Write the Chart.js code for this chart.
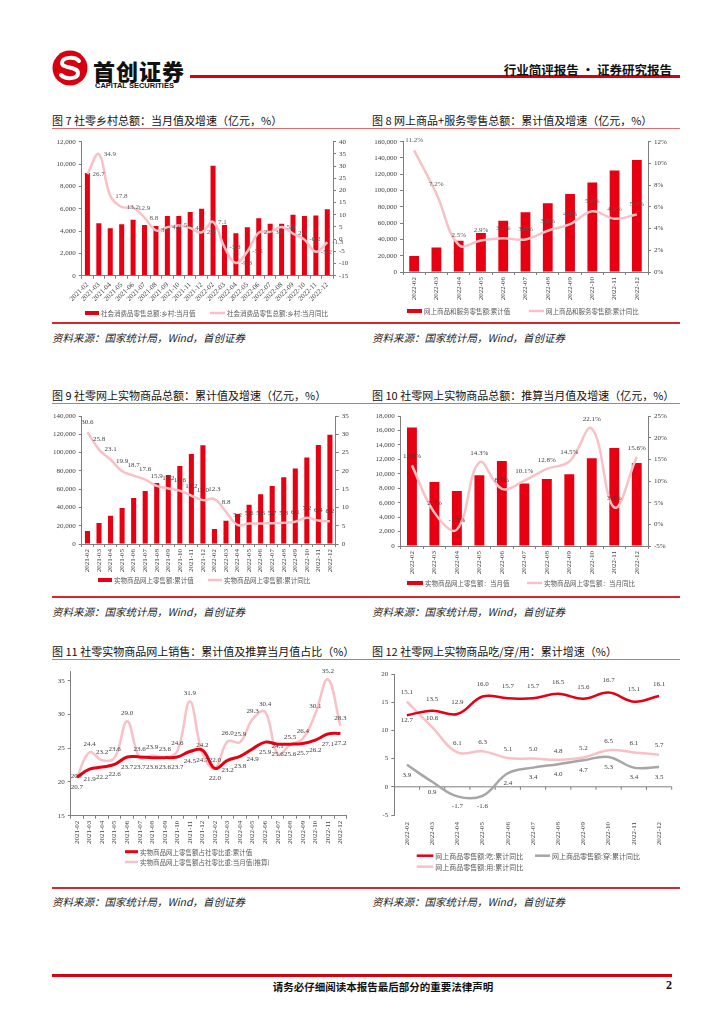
<!DOCTYPE html>
<html>
<head>
<meta charset="utf-8">
<script src="https://cdn.jsdelivr.net/npm/chart.js@4.4.1/dist/chart.umd.min.js"></script>
<style>
body { margin: 0; background: #fff; width: 724px; height: 1024px; position: relative; overflow: hidden; font-family: "Noto Sans CJK SC", sans-serif; }
.abs { position: absolute; white-space: nowrap; }
.title { font-size: 11px; line-height: 14px; color: #111; }
.src { font-size: 10.5px; line-height: 14px; font-style: italic; color: #222; }
.line { position: absolute; }
canvas { position: absolute; }
</style>
</head>
<body>

<svg style="position:absolute;left:51px;top:49px" width="38" height="38" viewBox="0 0 38 38">
  <circle cx="19" cy="19" r="17.5" fill="#d7000f"/>
  <path d="M28 12 C24 7 11 8 11 14 C11 20 27 17 27 24 C27 30 15 31 10 26" fill="none" stroke="#fff" stroke-width="4" stroke-linecap="round"/>
</svg>
<div class="abs" style="left:93px;top:54px;font-size:22px;font-weight:900;letter-spacing:1px;color:#111">首创证券</div>
<div class="abs" style="left:95px;top:81px;font-family:'Liberation Sans';font-size:7.5px;font-weight:bold;color:#111">CAPITAL SECURITIES</div>
<div class="line" style="left:190px;top:75px;width:490px;height:2.5px;background:#d7000f"></div>
<div class="abs" style="right:52px;top:60px;font-size:12.5px;font-weight:bold;color:#111">行业简评报告 · 证券研究报告</div>

<div class="abs title" style="left:52px;top:113px">图 7 社零乡村总额：当月值及增速（亿元，%）</div>
<div class="abs title" style="left:372px;top:113px">图 8 网上商品+服务零售总额：累计值及增速（亿元，%）</div>
<div class="line" style="left:52px;top:128px;width:628px;height:1px;background:#e36a6e"></div>
<div class="line" style="left:52px;top:322px;width:628px;height:2px;background:#d9262e"></div>
<div class="abs src" style="left:52px;top:331px">资料来源：国家统计局，Wind，首创证券</div>
<div class="abs src" style="left:372px;top:331px">资料来源：国家统计局，Wind，首创证券</div>

<div class="abs title" style="left:52px;top:388px">图 9 社零网上实物商品总额：累计值及增速（亿元，%）</div>
<div class="abs title" style="left:372px;top:388px">图 10 社零网上实物商品总额：推算当月值及增速（亿元，%）</div>
<div class="line" style="left:52px;top:403px;width:628px;height:1px;background:#e36a6e"></div>
<div class="line" style="left:52px;top:596px;width:628px;height:2px;background:#d9262e"></div>
<div class="abs src" style="left:52px;top:605px">资料来源：国家统计局，Wind，首创证券</div>
<div class="abs src" style="left:372px;top:605px">资料来源：国家统计局，Wind，首创证券</div>

<div class="abs title" style="left:52px;top:644px">图 11 社零实物商品网上销售：累计值及推算当月值占比（%）</div>
<div class="abs title" style="left:372px;top:644px">图 12 社零网上实物商品吃/穿/用：累计增速（%）</div>
<div class="line" style="left:52px;top:659px;width:628px;height:1px;background:#e36a6e"></div>
<div class="line" style="left:52px;top:887px;width:628px;height:2px;background:#d9262e"></div>
<div class="abs src" style="left:52px;top:895px">资料来源：国家统计局，Wind，首创证券</div>
<div class="abs src" style="left:372px;top:895px">资料来源：国家统计局，Wind，首创证券</div>

<div class="line" style="left:52px;top:974px;width:620px;height:3px;background:#d7000f"></div>
<div class="abs" style="left:383px;top:979px;transform:translateX(-50%);font-size:10.5px;font-weight:bold;color:#111">请务必仔细阅读本报告最后部分的重要法律声明</div>
<div class="abs" style="left:666px;top:978px;font-family:'Liberation Serif';font-size:12px;font-weight:bold;color:#111">2</div>

<canvas id="c7" width="325" height="190" style="left:40px;top:132px"></canvas>
<canvas id="c8" width="320" height="190" style="left:370px;top:132px"></canvas>
<canvas id="c9" width="325" height="188" style="left:40px;top:407px"></canvas>
<canvas id="c10" width="320" height="188" style="left:370px;top:407px"></canvas>
<canvas id="c11" width="325" height="210" style="left:40px;top:664px"></canvas>
<canvas id="c12" width="320" height="210" style="left:370px;top:664px"></canvas>

<script>
'use strict';

// months
const months2122 = ['2021-02', '2021-03', '2021-04', '2021-05', '2021-06', '2021-07', '2021-08', '2021-09', '2021-10', '2021-11', '2021-12',
  '2022-02', '2022-03', '2022-04', '2022-05', '2022-06', '2022-07', '2022-08', '2022-09', '2022-10', '2022-11', '2022-12'];
const months22 = ['2022-02', '2022-03', '2022-04', '2022-05', '2022-06', '2022-07', '2022-08', '2022-09', '2022-10', '2022-11', '2022-12'];

// fig 7 rural retail, monthly
const ruralValue = [9200, 4700, 4250, 4600, 5000, 4550, 4450, 5350, 5350, 5700, 6000, 9850, 4550, 3800, 4350, 5150, 4650, 4650, 5450, 5350, 5400, 5950];
const ruralYoy = [26.7, 34.9, 17.8, 13.2, 12.9, 8.8, 3.6, 4.9, 5.6, 4.6, 2.8, 7.1, -3.3, -9.8, -5.1, 2.7, 3.0, 5.0, 2.3, -0.2, -5.2, -1.3];

// fig 8 online goods + services, cumulative
const onlineCum = [19500, 30200, 38400, 47800, 63000, 73500, 84300, 95900, 109800, 124500, 137600];
const onlineYoy = [11.2, 7.2, 2.5, 2.9, 3.1, 3.0, 3.8, 4.4, 5.6, 4.9, 5.3];

// fig 9 online physical goods, cumulative
const physCum = [14200, 22950, 31000, 39350, 50300, 57900, 66700, 75400, 85200, 98400, 108000,
  16400, 25500, 32800, 43000, 54500, 63400, 72900, 82700, 94700, 108200, 119600];
const physYoy = [30.6, 25.8, 23.1, 19.9, 18.7, 17.6, 15.9, 15.2, 14.6, 13.2, 12.0, 12.3, 8.8, 5.2, 5.6, 5.6, 5.7, 5.8, 6.1, 7.2, 6.4, 6.2];

// fig 10 online physical goods, monthly (derived)
const physMonth = [16400, 8870, 7620, 9790, 11780, 8640, 9280, 9930, 12150, 13580, 11500];
const physMonthYoy = [13.6, 2.7, -1.2, 14.3, 8.2, 10.1, 12.8, 14.5, 22.1, 3.9, 15.6];

// fig 11 share of total retail
const shareCum = [20.7, 21.9, 22.2, 22.6, 23.7, 23.7, 23.6, 23.6, 23.7, 24.5, 24.7, 22.0, 23.2, 23.8, 24.9, 25.9, 25.6, 25.6, 25.7, 26.2, 27.1, 27.2];
const shareMonth = [20.7, 24.4, 23.2, 23.6, 29.0, 23.6, 23.9, 23.6, 24.6, 31.9, 24.2, 22.0, 26.0, 25.9, 29.3, 30.4, 24.1, 25.5, 26.4, 30.1, 35.2, 28.3];

// fig 12 eat / wear / use
const eatYoy = [12.7, 13.5, 12.9, 16.0, 15.7, 15.7, 16.5, 15.6, 16.7, 15.1, 16.1];
const wearYoy = [3.9, 0.9, -1.7, -1.6, 2.4, 3.4, 4.0, 4.7, 5.3, 3.4, 3.5];
const useYoy = [15.1, 10.6, 6.1, 6.3, 5.1, 5.0, 4.8, 5.2, 6.5, 6.1, 5.7];

const RED = '#e60012';
const PINK = '#f7c1c6';
const GRAY = '#a6a6a6';
const AXIS = '#7f7f7f';
const TXT = '#404040';

Chart.defaults.animation = false;
Chart.defaults.font.family = '"Liberation Serif", "Noto Sans CJK SC", serif';
Chart.defaults.font.size = 7;
Chart.defaults.color = TXT;
Chart.defaults.plugins.legend.display = false;
Chart.defaults.plugins.tooltip.enabled = false;

// numbers next to points
const valueLabels = {
  id: 'valueLabels',
  afterDatasetsDraw(chart) {
    const ctx = chart.ctx;
    chart.data.datasets.forEach(function (ds, i) {
      if (!ds.lbl) return;
      const meta = chart.getDatasetMeta(i);
      ctx.save();
      ctx.font = '7px "Liberation Serif"';
      ctx.fillStyle = ds.lbl.color || TXT;
      ctx.textAlign = ds.lbl.align || 'center';
      ctx.textBaseline = 'middle';
      meta.data.forEach(function (pt, j) {
        const v = ds.data[j];
        const dy = Array.isArray(ds.lbl.dy) ? ds.lbl.dy[j] : (ds.lbl.dy || 0);
        const txt = v.toFixed(1) + (ds.lbl.pct ? '%' : '');
        ctx.fillText(txt, pt.x + (ds.lbl.dx || 0), pt.y + dy);
      });
      ctx.restore();
    });
  }
};

// legend drawn where the report has it
const boxLegend = {
  id: 'boxLegend',
  afterDraw(chart, args, opts) {
    if (!opts.items) return;
    const ctx = chart.ctx;
    ctx.save();
    ctx.font = (opts.size || 6.5) + 'px "Noto Sans CJK SC"';
    ctx.textBaseline = 'middle';
    opts.items.forEach(function (it) {
      const ds = chart.data.datasets[it.ds];
      if (it.kind === 'box') {
        ctx.fillStyle = ds.backgroundColor;
        ctx.fillRect(it.x, it.y - 2, it.w, 4);
      } else {
        ctx.strokeStyle = ds.borderColor;
        ctx.lineWidth = ds.borderWidth;
        ctx.beginPath();
        ctx.moveTo(it.x, it.y);
        ctx.lineTo(it.x + it.w, it.y);
        ctx.stroke();
      }
      ctx.fillStyle = '#595959';
      ctx.fillText(ds.label, it.x + it.w + 2, it.y + 0.5);
    });
    ctx.restore();
  }
};

Chart.register(valueLabels, boxLegend);

// x axis of fig 12 sits on zero
const zeroLine = {
  id: 'zeroLine',
  beforeDatasetsDraw(chart) {
    const ctx = chart.ctx;
    const a = chart.chartArea;
    const y0 = chart.scales.y.getPixelForValue(0);
    const n = chart.data.labels.length;
    const w = (a.right - a.left) / n;
    ctx.save();
    ctx.strokeStyle = AXIS;
    ctx.lineWidth = 1;
    ctx.beginPath();
    ctx.moveTo(a.left, y0);
    ctx.lineTo(a.right, y0);
    for (let i = 1; i <= n; i++) {
      ctx.moveTo(a.left + i * w, y0);
      ctx.lineTo(a.left + i * w, y0 + 3);
    }
    ctx.stroke();
    ctx.restore();
  }
};

function thousands(v) { return v.toLocaleString('en-US'); }
function plain(v) { return String(v); }
function pct(v) { return v + '%'; }

function yAxis(pos, min, max, step, width, fmt, only5) {
  const ax = {
    position: pos, min: min, max: max,
    afterFit: function (s) { s.width = width; },
    ticks: { stepSize: step, padding: 3, callback: fmt || thousands },
    grid: { drawOnChartArea: false, tickLength: 3, color: AXIS },
    border: { color: AXIS }
  };
  if (only5) {
    ax.afterBuildTicks = function (s) { s.ticks = s.ticks.filter(function (t) { return t.value % 5 === 0; }); };
  }
  return ax;
}

function xAxis(height, rot, hideLine) {
  return {
    offset: true,
    afterFit: function (s) { s.height = height; },
    ticks: { autoSkip: false, minRotation: rot, maxRotation: rot, padding: hideLine ? 4 : 2 },
    grid: { display: !hideLine, drawOnChartArea: false, offset: true, tickLength: 3, color: AXIS },
    border: { display: !hideLine, color: AXIS }
  };
}

function barSet(label, data) {
  return { type: 'bar', label: label, data: data, backgroundColor: RED, yAxisID: 'y', barPercentage: 0.44, categoryPercentage: 1, order: 2 };
}
function lineSet(label, data, color, width, axis, lbl, order) {
  return { type: 'line', label: label, data: data, borderColor: color, backgroundColor: color, borderWidth: width,
    pointRadius: 0, tension: 0.4, yAxisID: axis, order: order || 1, lbl: lbl };
}

// fig 7
new Chart(document.getElementById('c7'), {
  type: 'bar',
  data: { labels: months2122, datasets: [
    barSet('社会消费品零售总额:乡村:当月值', ruralValue),
    lineSet('社会消费品零售总额:乡村:当月同比', ruralYoy, PINK, 2.5, 'y1', { dx: 5, align: 'left', color: '#595959' })
  ] },
  options: {
    responsive: false,
    layout: { padding: { top: 9.7, left: 0, right: 0, bottom: 0 } },
    scales: {
      x: xAxis(46.3, 45),
      y: yAxis('left', 0, 12000, 2000, 41.7),
      y1: yAxis('right', -15, 40, 5, 32, plain)
    },
    plugins: { boxLegend: { items: [
      { ds: 0, kind: 'box', x: 45, y: 181, w: 14 },
      { ds: 1, kind: 'line', x: 170, y: 181, w: 15 }
    ] } }
  }
});

// fig 8
new Chart(document.getElementById('c8'), {
  type: 'bar',
  data: { labels: months22, datasets: [
    barSet('网上商品和服务零售额:累计值', onlineCum),
    lineSet('网上商品和服务零售额:累计同比', onlineYoy, PINK, 2.5, 'y1', { dy: -10, pct: true, color: '#595959' })
  ] },
  options: {
    responsive: false,
    layout: { padding: { top: 9.7, left: 0, right: 0, bottom: 0 } },
    scales: {
      x: xAxis(50, 90),
      y: yAxis('left', 0, 160000, 20000, 33),
      y1: yAxis('right', 0, 12, 2, 42, pct)
    },
    plugins: { boxLegend: { items: [
      { ds: 0, kind: 'box', x: 37, y: 179, w: 15 },
      { ds: 1, kind: 'line', x: 159, y: 179, w: 15 }
    ] } }
  }
});

// fig 9
new Chart(document.getElementById('c9'), {
  type: 'bar',
  data: { labels: months2122, datasets: [
    barSet('实物商品网上零售额:累计值', physCum),
    lineSet('实物商品网上零售额:累计同比', physYoy, PINK, 2.5, 'y1', { dy: -10 })
  ] },
  options: {
    responsive: false,
    layout: { padding: { top: 9, left: 0, right: 0, bottom: 0 } },
    scales: {
      x: xAxis(51, 90),
      y: yAxis('left', 0, 140000, 20000, 41.7),
      y1: yAxis('right', 0, 35, 5, 29.3, plain)
    },
    plugins: { boxLegend: { items: [
      { ds: 0, kind: 'box', x: 58, y: 173, w: 14 },
      { ds: 1, kind: 'line', x: 168, y: 173, w: 14 }
    ] } }
  }
});

// fig 10
new Chart(document.getElementById('c10'), {
  type: 'bar',
  data: { labels: months22, datasets: [
    barSet('实物商品网上零售额：当月值', physMonth),
    lineSet('实物商品网上零售额：当月同比', physMonthYoy, PINK, 2.5, 'y1', { dy: -9, pct: true })
  ] },
  options: {
    responsive: false,
    layout: { padding: { top: 9, left: 0, right: 0, bottom: 0 } },
    scales: {
      x: xAxis(49, 90),
      y: yAxis('left', 0, 18000, 2000, 30.7),
      y1: yAxis('right', -5, 25, 5, 42, pct)
    },
    plugins: { boxLegend: { items: [
      { ds: 0, kind: 'box', x: 37, y: 176, w: 16 },
      { ds: 1, kind: 'line', x: 157, y: 176, w: 15 }
    ] } }
  }
});

// fig 11
const pinkDy11 = shareMonth.map(function (v, i) { return i === 0 ? -1 : -8; });
new Chart(document.getElementById('c11'), {
  type: 'line',
  data: { labels: months2122, datasets: [
    lineSet('实物商品网上零售额占社零比重:累计值', shareCum, RED, 3, 'y', { dy: 10 }, 1),
    lineSet('实物商品网上零售额占社零比重:当月值(推算)', shareMonth, PINK, 2.5, 'y', { dy: pinkDy11 }, 2)
  ] },
  options: {
    responsive: false,
    layout: { padding: { top: 7.7, left: 0, right: 18.3, bottom: 0 } },
    scales: {
      x: xAxis(58.3, 90),
      y: yAxis('left', 15, 36.33, 5, 30.7, plain, true)
    },
    plugins: { boxLegend: { items: [
      { ds: 0, kind: 'line', x: 85, y: 187.7, w: 13 },
      { ds: 1, kind: 'line', x: 85, y: 198, w: 13 }
    ] } }
  }
});

// fig 12
const redDy12 = eatYoy.map(function (v, i) { return i === 0 ? 5 : -12; });
new Chart(document.getElementById('c12'), {
  type: 'line',
  data: { labels: months22, datasets: [
    lineSet('网上商品零售额:吃:累计同比', eatYoy, RED, 2.5, 'y', { dy: redDy12 }, 1),
    lineSet('网上商品零售额:穿:累计同比', wearYoy, GRAY, 2.5, 'y', { dy: 10 }, 2),
    lineSet('网上商品零售额:用:累计同比', useYoy, PINK, 2.5, 'y', { dy: -9 }, 2)
  ] },
  options: {
    responsive: false,
    layout: { padding: { top: 10, left: 0, right: 18.3, bottom: 0 } },
    scales: {
      x: xAxis(59, 90, true),
      y: yAxis('left', -5, 20, 5, 24.3, plain)
    },
    plugins: { boxLegend: { size: 7, items: [
      { ds: 0, kind: 'line', x: 46.7, y: 191.7, w: 16.6 },
      { ds: 1, kind: 'line', x: 165, y: 191.7, w: 15 },
      { ds: 2, kind: 'line', x: 46.7, y: 202.7, w: 16.6 }
    ] } }
  },
  plugins: [zeroLine]
});
</script>
</body>
</html>
